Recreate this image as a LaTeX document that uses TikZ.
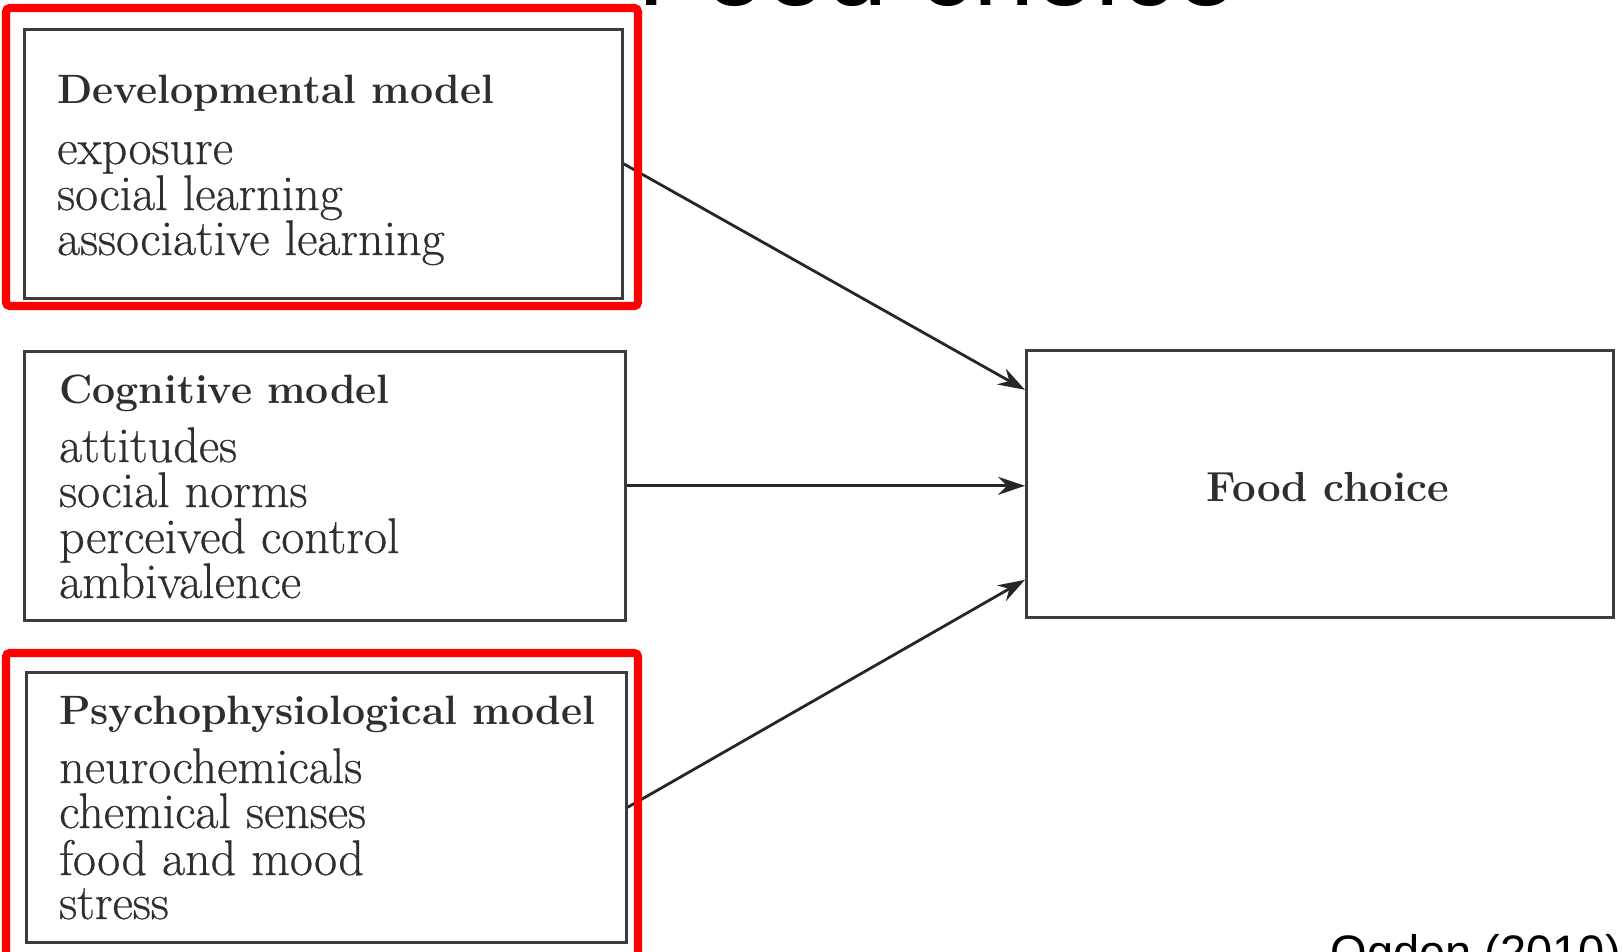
\documentclass[tikz,border=0pt]{standalone}
\usepackage{fontspec}
\newfontfamily\slidesans{Liberation Sans}
\newfontfamily\bodyserif[FakeBold=0.5]{Latin Modern Roman}
\usetikzlibrary{arrows.meta,calc}
\definecolor{ink}{HTML}{2E2E2E}
\definecolor{boxline}{HTML}{3C3C3C}
\definecolor{mark}{HTML}{FF0000}
\tikzset{
  modelbox/.style={draw=boxline, line width=2.6pt, fill=none, rectangle, inner sep=0pt, anchor=north west},
  heading/.style={anchor=base west, inner sep=0pt, text height=28pt, text depth=9pt, text=ink, font=\fontsize{41}{41}\selectfont\bfseries},
  item/.style={anchor=base west, inner sep=0pt, text height=32pt, text depth=9pt, text=ink, font=\fontsize{50}{50}\bodyserif},
  link/.style={draw=black!85, line width=2.8pt, -{Stealth[length=27pt, width=18pt, inset=9pt]}},
  highlight/.style={draw=mark, line width=8.3pt, rounded corners=4pt}
}
\begin{document}
\begin{tikzpicture}[x=1pt,y=-1pt]
\path[use as bounding box, clip] (0,0) rectangle (1623,951);
\fill[white] (0,0) rectangle (1623,951);

% slide title, running off the top edge
\node[anchor=base west, inner sep=0pt, font=\fontsize{110}{110}\selectfont\slidesans] (title) at (637,5) {Food choice};

% model boxes
\node[modelbox, minimum width=598pt, minimum height=269pt] (dev) at (23,28) {};
\node[modelbox, minimum width=601pt, minimum height=269pt] (cog) at (23,350) {};
\node[modelbox, minimum width=600pt, minimum height=270pt] (psy) at (25,671) {};
\node[modelbox, minimum width=587pt, minimum height=267pt] (food) at (1025,349) {};

% box contents
\node[heading] (devh) at (57,103) {Developmental model};
\node[item] (dev1) at (57,164) {exposure};
\node[item] (dev2) at (57,210) {social learning};
\node[item] (dev3) at (57,255) {associative learning};

\node[heading] (cogh) at (59,403) {Cognitive model};
\node[item] (cog1) at (59,462) {attitudes};
\node[item] (cog2) at (59,507) {social norms};
\node[item] (cog3) at (59,553) {perceived control};
\node[item] (cog4) at (59,598) {ambivalence};

\node[heading] (psyh) at (59,724) {Psychophysiological model};
\node[item] (psy1) at (59,783) {neurochemicals};
\node[item] (psy2) at (59,828) {chemical senses};
\node[item] (psy3) at (59,875) {food and mood};
\node[item] (psy4) at (59,919) {stress};

\node[inner sep=0pt, text=ink, font=\fontsize{42}{42}\selectfont\bfseries] (foodt) at ($(food.center)+(8,3)$) {Food choice};

% connectors
\draw[link] (dev.east) -- ([yshift=94pt]food.west);
\draw[link] (cog.east) -- (cog.east -| food.west);
\draw[link] (psy.east) -- ([yshift=-96pt]food.west);

% highlight frames
\draw[highlight] (6,8) rectangle (638,306);
\draw[highlight] (6,653) rectangle (638,975);

% source note, running off the bottom edge
\node[anchor=base east, inner sep=0pt, font=\fontsize{47}{47}\selectfont\slidesans] (src) at (1621,968) {Ogden (2010)};
\end{tikzpicture}
\end{document}
